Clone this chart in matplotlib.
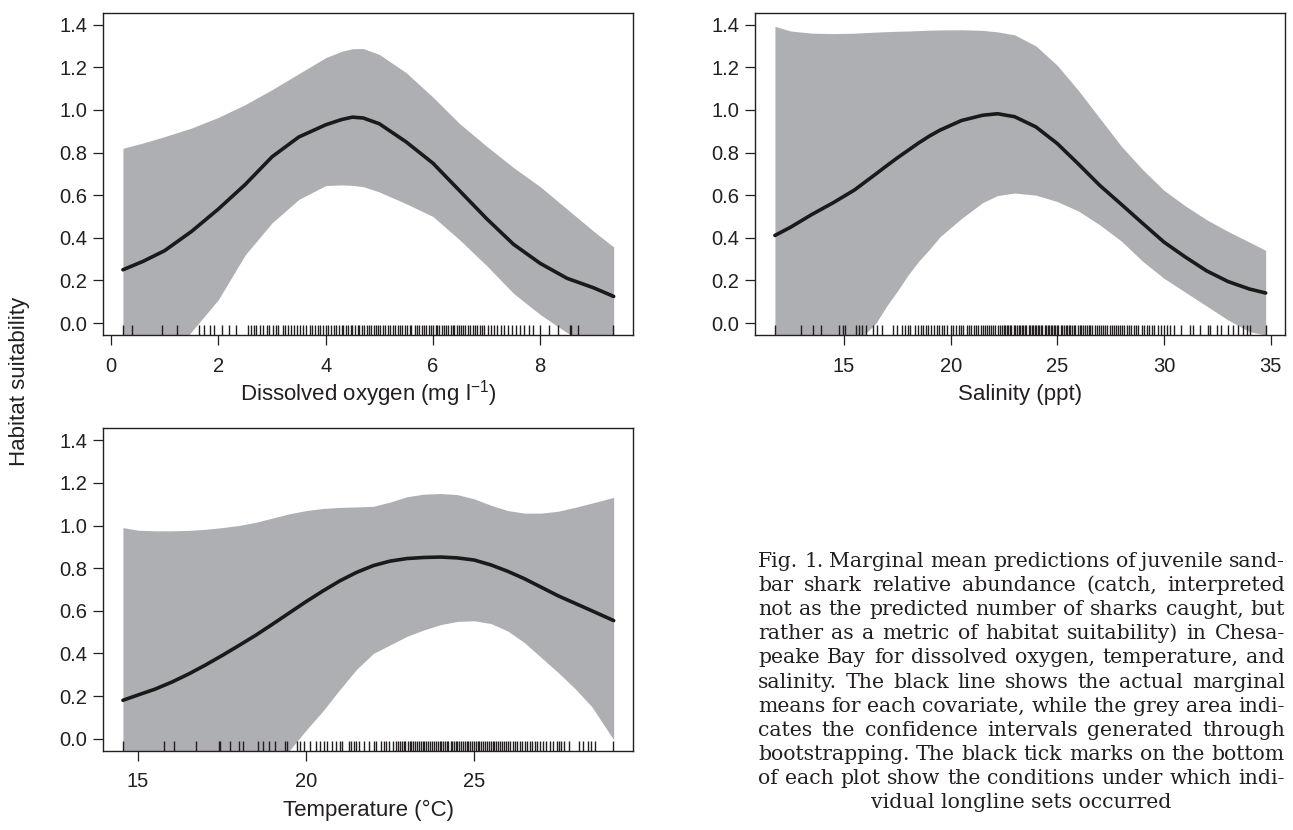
import numpy as np
import matplotlib
matplotlib.use('Agg')
import matplotlib.pyplot as plt

# --- fonts ---
plt.rcParams['font.family'] = ['Liberation Sans', 'DejaVu Sans']
plt.rcParams['mathtext.fontset'] = 'custom'
plt.rcParams['mathtext.rm'] = 'Liberation Sans'
plt.rcParams['mathtext.default'] = 'regular'

W, H = 1293, 830
INK = '#231f20'
BAND = '#aeafb3'

# --- Dissolved oxygen (top left) ---
do_x = [0.22, 0.6, 1.0, 1.5, 2.0, 2.5, 3.0, 3.5, 4.0, 4.3, 4.5, 4.7, 5.0, 5.5, 6.0,
        6.5, 7.0, 7.5, 8.0, 8.5, 9.0, 9.37]
do_mean = [0.25, 0.29, 0.34, 0.43, 0.535, 0.65, 0.78, 0.873, 0.93, 0.955, 0.966, 0.962, 0.935, 0.85, 0.75,
           0.62, 0.49, 0.37, 0.28, 0.21, 0.165, 0.125]
do_upper = [0.82, 0.845, 0.875, 0.915, 0.965, 1.025, 1.095, 1.17, 1.245, 1.275, 1.287, 1.288, 1.26, 1.175, 1.06,
            0.935, 0.83, 0.73, 0.64, 0.535, 0.43, 0.357]
do_lower = [-0.45, -0.33, -0.2, -0.04, 0.11, 0.32, 0.47, 0.58, 0.645, 0.648, 0.646, 0.64, 0.615, 0.56, 0.5,
            0.39, 0.27, 0.14, 0.04, -0.045, -0.1, -0.14]
do_rug = [0.23, 0.39, 0.95, 1.23, 1.63, 1.74, 1.85, 1.91, 2.07, 2.20, 2.33,
          2.55, 2.6, 2.66, 2.7, 2.78, 2.83, 2.9, 2.95, 3.02, 3.08, 3.12, 3.2, 3.25, 3.3,
          3.36, 3.41, 3.47, 3.52, 3.58, 3.63, 3.7, 3.74, 3.8, 3.86, 3.9, 3.95, 4.0, 4.04,
          4.1, 4.15, 4.19, 4.24, 4.3, 4.33, 4.38, 4.42, 4.47, 4.5, 4.55, 4.6, 4.63, 4.68,
          4.72, 4.77, 4.8, 4.85, 4.9, 4.93, 4.98, 5.02, 5.07, 5.1, 5.16, 5.2, 5.25, 5.3,
          5.34, 5.38, 5.43, 5.48, 5.52, 5.57, 5.6, 5.66, 5.7, 5.74, 5.79, 5.83, 5.88, 5.92,
          5.96, 6.0, 6.05, 6.08, 6.12, 6.17, 6.2, 6.25, 6.28, 6.33, 6.37, 6.4, 6.45, 6.49,
          6.53, 6.57, 6.6, 6.65, 6.7, 6.74, 6.78, 6.83, 6.87, 6.92, 6.96, 7.02, 7.08, 7.13,
          7.2, 7.27, 7.33, 7.4, 7.47, 7.55, 7.63, 7.7, 7.8, 7.87,
          8.0, 8.17, 8.33, 8.55, 8.58, 8.71, 9.36]
do_ticks = [0, 2, 4, 6, 8]

# --- Salinity (top right) ---
sal_x = [11.76, 12.5, 13.5, 14.5, 15.5, 16.5, 17.0, 17.5, 18.0, 18.5, 19.0, 19.5, 20.5, 21.5,
         22.2, 23.0, 24.0, 25.0, 26.0, 27.0, 28.0, 29.0, 30.0, 31.0, 32.0, 33.0, 34.0, 34.77]
sal_mean = [0.411, 0.45, 0.51, 0.565, 0.625, 0.70, 0.738, 0.775, 0.81, 0.845, 0.877, 0.905, 0.95, 0.975,
            0.982, 0.968, 0.92, 0.842, 0.745, 0.645, 0.557, 0.468, 0.38, 0.31, 0.245, 0.195, 0.16, 0.141]
sal_upper = [1.392, 1.37, 1.36, 1.358, 1.36, 1.365, 1.367, 1.369, 1.37, 1.372, 1.374, 1.375, 1.376, 1.373,
             1.366, 1.352, 1.30, 1.209, 1.09, 0.96, 0.83, 0.72, 0.623, 0.55, 0.485, 0.43, 0.38, 0.341]
sal_lower = [-0.6, -0.5, -0.38, -0.25, -0.1, 0.0, 0.08, 0.15, 0.225, 0.29, 0.345, 0.405, 0.49, 0.565,
             0.598, 0.61, 0.60, 0.57, 0.525, 0.46, 0.385, 0.29, 0.21, 0.145, 0.08, 0.015, -0.04, -0.056]
sal_rug = [11.77, 12.97, 13.53, 13.91, 14.77, 14.97, 15.05, 15.55, 15.7, 15.83, 16.03, 16.37,
           16.56, 16.77, 17.31, 17.5,
           17.70, 17.85, 18.0, 18.1, 18.35, 18.45, 18.6, 18.7, 18.85, 18.95, 19.1, 19.2, 19.35,
           19.45, 19.6, 19.7, 19.85, 20.0, 20.1, 20.25, 20.4, 20.5, 20.6, 20.75, 20.85, 20.95,
           21.1, 21.2, 21.3, 21.4, 21.5, 21.6, 21.7, 21.8, 21.9, 22.0, 22.1, 22.2, 22.3, 22.4,
           22.5, 22.55, 22.65, 22.7, 22.8, 22.85, 22.95, 23.0, 23.1, 23.2, 23.25, 23.35, 23.4,
           23.5, 23.55, 23.65, 23.7, 23.8, 23.85, 23.95, 24.0, 24.1, 24.15, 24.25, 24.3, 24.4,
           24.45, 24.55, 24.6, 24.7, 24.75, 24.85, 24.9, 25.0, 25.05, 25.15, 25.2, 25.3, 25.4,
           25.45, 25.55, 25.6, 25.7, 25.8, 25.85, 25.95, 26.05, 26.1, 26.2, 26.3, 26.4, 26.5,
           26.55, 26.65, 26.75, 26.85, 26.95, 27.05, 27.15, 27.25, 27.35, 27.45, 27.55, 27.65,
           27.75, 27.85, 27.95, 28.05, 28.15, 28.25, 28.35, 28.45, 28.6, 28.7, 28.8, 28.95,
           29.05, 29.2, 29.3, 29.45, 29.55, 29.7, 29.85, 30.0, 30.15, 30.3, 30.45,
           30.78, 31.22, 31.38, 31.69, 32.08, 32.16, 32.47, 32.66, 33.02, 33.25, 33.49, 33.72,
           33.91, 34.03, 34.8]
sal_ticks = [15, 20, 25, 30, 35]

# --- Temperature (bottom left) ---
temp_x = [14.55, 15.0, 15.5, 16.0, 16.5, 17.0, 17.5, 18.0, 18.5, 19.0, 19.5, 20.0, 20.5, 21.0,
          21.5, 22.0, 22.5, 23.0, 23.5, 24.0, 24.5, 25.0, 25.5, 26.0, 26.5, 27.0, 27.5, 28.0,
          28.5, 29.15]
temp_mean = [0.18, 0.205, 0.232, 0.265, 0.303, 0.345, 0.39, 0.437, 0.485, 0.537, 0.59, 0.643, 0.693, 0.74,
             0.78, 0.812, 0.833, 0.845, 0.85, 0.852, 0.848, 0.838, 0.815, 0.785, 0.75, 0.71, 0.67, 0.635,
             0.60, 0.554]
temp_upper = [0.99, 0.978, 0.975, 0.975, 0.977, 0.982, 0.99, 1.0, 1.015, 1.035, 1.055, 1.07, 1.08, 1.085,
              1.087, 1.09, 1.11, 1.135, 1.147, 1.15, 1.145, 1.125, 1.095, 1.07, 1.058, 1.058, 1.067, 1.085,
              1.105, 1.132]
temp_lower = [-0.5, -0.47, -0.44, -0.41, -0.38, -0.34, -0.30, -0.26, -0.2, -0.14, -0.056, 0.04, 0.13, 0.23,
              0.325, 0.40, 0.44, 0.48, 0.51, 0.535, 0.55, 0.553, 0.54, 0.505, 0.45, 0.38, 0.31, 0.235,
              0.15, -0.005]
temp_rug = [14.54, 15.77, 16.06, 16.71, 17.4, 17.45, 17.75, 18.0, 18.12, 18.57, 18.72, 18.89,
            19.07, 19.37, 19.44,
            19.74, 19.83, 19.94, 20.13, 20.28, 20.40, 20.53, 20.63, 20.76, 20.88, 21.0, 21.08,
            21.28, 21.35, 21.43, 21.47, 21.57, 21.72, 21.87, 22.02, 22.09, 22.22, 22.32, 22.37,
            22.47, 22.57,
            22.66, 22.72, 22.78, 22.85, 22.9, 22.95, 23.02, 23.08, 23.12, 23.18, 23.25, 23.3,
            23.35, 23.42, 23.48, 23.52, 23.58, 23.63, 23.7, 23.75, 23.8, 23.86, 23.92, 23.97,
            24.02, 24.08, 24.12, 24.18, 24.23, 24.3, 24.35, 24.4, 24.45, 24.5, 24.56, 24.62,
            24.67, 24.72, 24.78, 24.83, 24.88, 24.93, 25.0, 25.05, 25.1, 25.15, 25.2, 25.27,
            25.32, 25.38, 25.43, 25.5, 25.55, 25.6, 25.66, 25.72, 25.78, 25.83, 25.9, 25.95,
            26.02, 26.08, 26.15, 26.22, 26.28, 26.35, 26.42, 26.5, 26.57, 26.65, 26.72, 26.8,
            26.88, 26.95, 27.05, 27.15, 27.25, 27.35, 27.45, 27.53,
            27.58, 27.68, 27.83, 28.13, 28.23, 28.38, 28.47, 28.6, 29.14]
temp_ticks = [15, 20, 25]

y_ticks = [0.0, 0.2, 0.4, 0.6, 0.8, 1.0, 1.2, 1.4]

CAPTION_LINES = [
    "Fig. 1. Marginal mean predictions of juvenile sand-",
    "bar shark relative abundance (catch, interpreted",
    "not as the predicted number of sharks caught, but",
    "rather as a metric of habitat suitability) in Chesa-",
    "peake Bay for dissolved oxygen, temperature, and",
    "salinity. The black line shows the actual marginal",
    "means for each covariate, while the grey area indi-",
    "cates the confidence intervals generated through",
    "bootstrapping. The black tick marks on the bottom",
    "of each plot show the conditions under which indi-",
    "vidual longline sets occurred",
]


def r_lim(lo, hi):
    # R style 4% expansion of the data range
    pad = 0.04 * (hi - lo)
    return lo - pad, hi + pad


def px_axes(fig, x0, y0, x1, y1):
    return fig.add_axes([x0 / W, 1 - y1 / H, (x1 - x0) / W, (y1 - y0) / H])


def panel(ax, x, mean, upper, lower, rug, xticks):
    ax.fill_between(x, lower, upper, color=BAND, lw=0, zorder=1)
    ax.plot(x, mean, color='#1a1a1a', lw=2.6, solid_capstyle='round',
            solid_joinstyle='round', zorder=3)
    ax.vlines(rug, 0, 0.03, transform=ax.get_xaxis_transform(), color=INK, lw=1.0, zorder=2)
    ax.set_xlim(*r_lim(x[0], x[-1]))
    ax.set_ylim(*r_lim(0.0, 1.4))
    ax.set_xticks(xticks)
    ax.set_xticklabels([str(t) for t in xticks])
    ax.set_yticks(y_ticks)
    ax.set_yticklabels([f'{t:.1f}' for t in y_ticks])
    ax.tick_params(direction='out', length=7.2, width=0.9, color=INK, labelcolor=INK,
                   labelsize=14.5)
    ax.tick_params(axis='x', pad=8.5)
    ax.tick_params(axis='y', pad=4.5)
    for s in ax.spines.values():
        s.set_linewidth(1.0)
        s.set_color(INK)


fig = plt.figure(figsize=(W / 100, H / 100), dpi=100)

ax1 = px_axes(fig, 103.3, 12.7, 633.3, 335)
panel(ax1, do_x, do_mean, do_upper, do_lower, do_rug, do_ticks)
ax2 = px_axes(fig, 755.3, 12.7, 1285.3, 335)
panel(ax2, sal_x, sal_mean, sal_upper, sal_lower, sal_rug, sal_ticks)
ax3 = px_axes(fig, 103.3, 428.3, 633.3, 750.6)
panel(ax3, temp_x, temp_mean, temp_upper, temp_lower, temp_rug, temp_ticks)

lab_kw = dict(fontsize=16, color=INK, ha='center', va='baseline')
fig.text(368.3 / W, 1 - 400 / H, 'Dissolved oxygen (mg l$^{-1}$)', **lab_kw)
fig.text(1020.3 / W, 1 - 400 / H, 'Salinity (ppt)', **lab_kw)
fig.text(368.3 / W, 1 - 816 / H, 'Temperature (°C)', **lab_kw)
fig.text(20 / W, 1 - 381 / H, 'Habitat suitability', fontsize=16, color=INK,
         rotation=90, ha='center', va='center')

# --- justified caption ---
CAP_L, CAP_R = 758, 1285
CAP_TOP, CAP_STEP = 567, 24.1
cap_kw = dict(fontsize=14.7, family='DejaVu Serif', color=INK)
renderer = fig.canvas.get_renderer()
for i, line in enumerate(CAPTION_LINES):
    yb = 1 - (CAP_TOP + i * CAP_STEP) / H
    if i == len(CAPTION_LINES) - 1:
        fig.text((CAP_L + CAP_R) / 2 / W, yb, line, ha='center', va='baseline', **cap_kw)
        continue
    words = line.split(' ')
    texts = [fig.text(0, yb, w, ha='left', va='baseline', **cap_kw) for w in words]
    widths = [t.get_window_extent(renderer).width for t in texts]
    gap = (CAP_R - CAP_L - sum(widths)) / (len(words) - 1)
    xpos = CAP_L
    for t, w in zip(texts, widths):
        t.set_x(xpos / W)
        xpos += w + gap

fig.savefig('out.png', dpi=100)
